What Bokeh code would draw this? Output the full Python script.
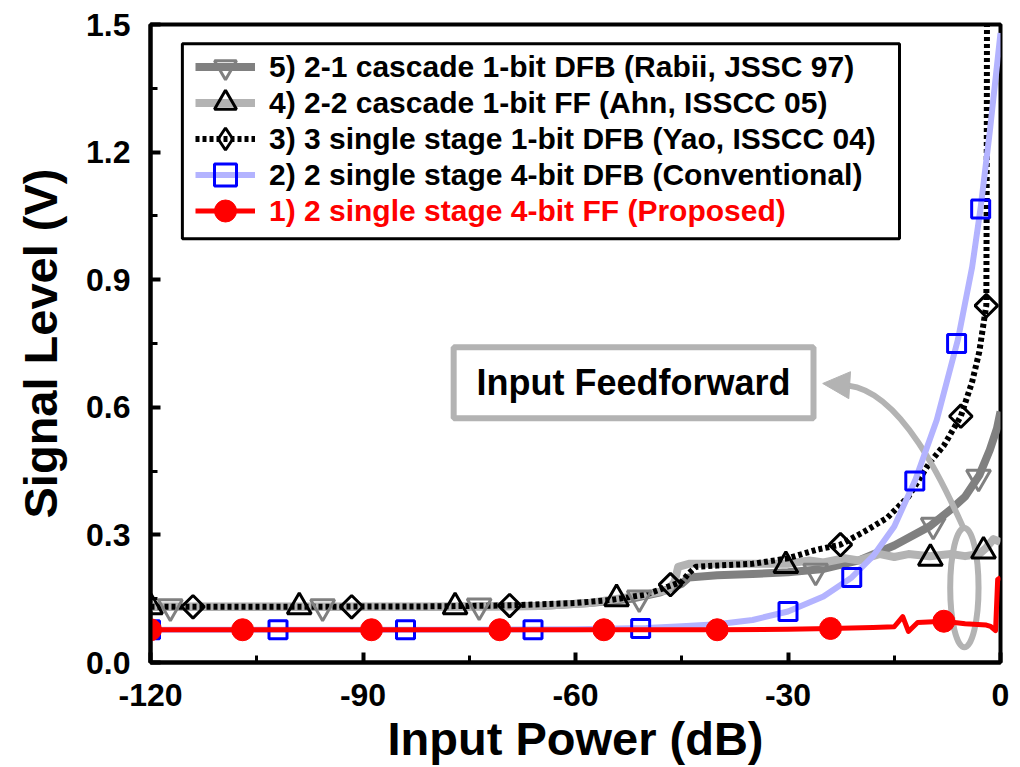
from bokeh.plotting import figure
from bokeh.models import (Range1d, FixedTicker, PrintfTickFormatter, Legend, LegendItem,
                          BoxAnnotation, Label, Arrow, NormalHead)
from bokeh.embed import file_html
from bokeh.resources import INLINE

FONT = "Liberation Sans"

# ---------------- data ----------------
# 5) 2-1 cascade 1-bit DFB (Rabii)
rabii_x = [-120, -100, -80, -65, -58, -52, -48, -45, -44, -40, -35, -30, -25, -20, -15, -10, -7, -5, -3, -1.5, -0.5, 0]
rabii_y = [0.131, 0.131, 0.131, 0.133, 0.14, 0.15, 0.165, 0.185, 0.2, 0.205, 0.208, 0.212, 0.22, 0.24, 0.275, 0.32, 0.36, 0.39, 0.44, 0.5, 0.55, 0.59]
rabii_mx = [-117.2, -95.7, -73.6, -51, -26.1, -9.5, -3.1]
rabii_my = [0.131, 0.131, 0.133, 0.152, 0.215, 0.323, 0.436]

# 4) 2-2 cascade 1-bit FF (Ahn)
ahn_x = [-120, -100, -80, -65, -58, -54, -50, -47, -46, -45.5, -44, -40, -35, -30, -27, -25, -22, -20, -17, -15, -13, -10, -7, -5, -3, -2, -1, 0]
ahn_y = [0.131, 0.131, 0.131, 0.133, 0.14, 0.15, 0.16, 0.17, 0.19, 0.225, 0.232, 0.232, 0.232, 0.232, 0.24, 0.235, 0.245, 0.24, 0.255, 0.248, 0.255, 0.25, 0.255, 0.25, 0.255, 0.27, 0.29, 0.283]
ahn_mx = [-120, -99, -77, -54.2, -30.3, -9.9, -2.4]
ahn_my = [0.131, 0.131, 0.131, 0.15, 0.228, 0.245, 0.262]

# 3) 3 single stage 1-bit DFB (Yao)
yao_x = [-120, -100, -80, -70, -60, -55, -50, -47, -45, -44, -43, -40, -35, -30, -26, -22.6, -19, -16, -13, -10, -8, -5.6, -4, -3, -2, -1.95, -1.9]
yao_y = [0.131, 0.131, 0.132, 0.134, 0.14, 0.147, 0.16, 0.178, 0.19, 0.21, 0.225, 0.228, 0.232, 0.245, 0.265, 0.277, 0.31, 0.34, 0.39, 0.47, 0.51, 0.579, 0.66, 0.73, 0.84, 1.1, 1.6]
yao_mx = [-114, -91.6, -69.3, -46.6, -22.6, -5.6, -2.0]
yao_my = [0.131, 0.131, 0.134, 0.183, 0.277, 0.579, 0.839]

# 2) 2 single stage 4-bit DFB (Conventional)
conv_x = [-120, -100, -80, -60, -50, -45, -40, -35, -30, -25, -21, -18, -15, -12, -9, -6, -4, -2.8, -1.5, 0]
conv_y = [0.077, 0.077, 0.077, 0.078, 0.081, 0.085, 0.09, 0.1, 0.12, 0.155, 0.2, 0.25, 0.32, 0.43, 0.57, 0.76, 0.93, 1.07, 1.25, 1.48]
conv_mx = [-120, -102, -84, -66, -50.8, -30, -21, -12.1, -6.2, -2.8]
conv_my = [0.077, 0.077, 0.077, 0.077, 0.08, 0.12, 0.2, 0.427, 0.75, 1.066]

# 1) 2 single stage 4-bit FF (Proposed)
prop_x = [-120, -100, -80, -60, -40, -30, -24, -18, -15, -13.8, -13, -11.7, -8, -5, -2, -1.4, -0.7, -0.4, 0]
prop_y = [0.077, 0.077, 0.077, 0.077, 0.077, 0.078, 0.08, 0.082, 0.084, 0.108, 0.073, 0.094, 0.097, 0.091, 0.088, 0.085, 0.075, 0.195, 0.2]
prop_mx = [-120, -107, -88.8, -70.7, -56, -40, -24, -8]
prop_my = [0.077, 0.077, 0.077, 0.077, 0.077, 0.077, 0.08, 0.097]

labels = [
    "5) 2-1 cascade 1-bit DFB (Rabii, JSSC 97)",
    "4) 2-2 cascade 1-bit FF (Ahn, ISSCC 05)",
    "3) 3 single stage 1-bit DFB (Yao, ISSCC 04)",
    "2) 2 single stage 4-bit DFB (Conventional)",
    "1) 2 single stage 4-bit FF (Proposed)",
]
x_ticks = [-120, -90, -60, -30, 0]
x_minor = [-105, -75, -45, -15]
y_ticks = [0.0, 0.3, 0.6, 0.9, 1.2, 1.5]
y_minor = [0.15, 0.45, 0.75, 1.05, 1.35]

GRAY_D = "#808080"
GRAY_L = "#b3b3b3"

p = figure(width=1020, height=767, output_backend="svg", toolbar_location=None,
           x_range=Range1d(-120, 0), y_range=Range1d(0, 1.5),
           min_border_left=150, min_border_right=20, min_border_top=24, min_border_bottom=104,
           x_axis_label="Input Power (dB)", y_axis_label="Signal Level (V)")
p.xgrid.visible = False
p.ygrid.visible = False
p.outline_line_color = "black"
p.outline_line_width = 4
p.outline_line_alpha = 1

for ax in (p.xaxis[0], p.yaxis[0]):
    ax.axis_line_width = 4
    ax.axis_line_color = "black"
    ax.major_tick_line_width = 4
    ax.minor_tick_line_width = 3
    ax.major_tick_in = 10
    ax.major_tick_out = 0
    ax.minor_tick_in = 7
    ax.minor_tick_out = 0
    ax.major_label_text_font = FONT
    ax.major_label_text_font_size = "32px"
    ax.major_label_text_font_style = "bold"
    ax.major_label_text_color = "black"
    ax.axis_label_text_font = FONT
    ax.axis_label_text_font_size = "47px"
    ax.axis_label_text_font_style = "bold"
    ax.axis_label_text_color = "black"

p.xaxis.ticker = FixedTicker(ticks=x_ticks, minor_ticks=x_minor)
p.yaxis.ticker = FixedTicker(ticks=y_ticks, minor_ticks=y_minor)
p.yaxis.formatter = PrintfTickFormatter(format="%.1f")
p.xaxis.formatter = PrintfTickFormatter(format="%d")
p.xaxis.major_label_standoff = 21
p.yaxis.major_label_standoff = 20
p.xaxis.axis_label_standoff = 3
p.yaxis.axis_label_standoff = 16

# series lines
r5l = p.line(rabii_x, rabii_y, line_color=GRAY_D, line_width=8, line_join="round")
r4l = p.line(ahn_x, ahn_y, line_color=GRAY_L, line_width=8, line_join="round")

# ellipse annotation (input feedforward region)
p.ellipse(x=[-5.1], y=[0.176], width=[4], height=[0.28], fill_color=None,
          line_color=GRAY_L, line_width=6)

r3l = p.line(yao_x, yao_y, line_color="black", line_width=6, line_dash="4 3")
r5m = p.scatter(rabii_mx, rabii_my, marker="inverted_triangle", size=24, fill_color=None,
                line_color=GRAY_D, line_width=3)
r4m = p.scatter(ahn_mx, ahn_my, marker="triangle", size=24, fill_color=None,
                line_color="black", line_width=3)
r3m = p.scatter(yao_mx, yao_my, marker="square", angle=0.7854, size=16, fill_color=None,
                line_color="black", line_width=3)
# hidden twin, used only for the diamond symbol in the legend key
r3m_key = p.scatter(yao_mx, yao_my, marker="diamond", size=26, fill_color=None,
                    line_color="black", line_width=3, visible=False)

p.bezier(x0=[-21.46], y0=[0.651], x1=[-5.22], y1=[0.316], cx0=[-13.41], cy0=[0.635],
         cx1=[-7.06], cy1=[0.382], line_color=GRAY_L, line_width=6)

r2l = p.line(conv_x, conv_y, line_color="#b3b3ff", line_width=6, line_join="round")
r2m = p.scatter(conv_mx, conv_my, marker="square", size=18, fill_color=None,
                line_color="#0000ff", line_width=3)
r1l = p.line(prop_x, prop_y, line_color="#ff0000", line_width=5, line_join="round")
r1m = p.scatter(prop_mx, prop_my, marker="circle", size=22, fill_color="#ff0000",
                line_color="#ff0000", line_width=1)

# arrow head pointing to the label box
p.add_layout(Arrow(end=NormalHead(size=27, fill_color=GRAY_L, line_color=GRAY_L),
                   x_start=-21.3, y_start=0.652, x_end=-25.1, y_end=0.656,
                   line_color=GRAY_L, line_width=6))

# "Input Feedforward" box
p.add_layout(BoxAnnotation(left=-77.2, right=-26.4, top=0.741, bottom=0.574,
                           fill_color="white", fill_alpha=1, line_color=GRAY_L,
                           line_width=6, line_alpha=1))
p.add_layout(Label(x=-51.8, y=0.659, text="Input Feedforward", text_align="center",
                   text_baseline="middle", text_font=FONT, text_font_size="36px",
                   text_font_style="bold", text_color="black"))

# legend frame
p.add_layout(BoxAnnotation(left=-115.5, right=-14.26, top=1.455, bottom=0.996,
                           fill_color="white", fill_alpha=1, line_color="black",
                           line_width=3, line_alpha=1))

def make_legend(label, renderers, color, vy):
    lg = Legend(items=[LegendItem(label=label, renderers=renderers)], location=(45, vy))
    lg.background_fill_alpha = 0
    lg.border_line_alpha = 0
    lg.inactive_fill_alpha = 0
    lg.padding = 0
    lg.margin = 0
    lg.spacing = 0
    lg.glyph_width = 60
    lg.glyph_height = 55
    lg.label_height = 55
    lg.label_standoff = 14
    lg.label_text_font = FONT
    lg.label_text_font_size = "30px"
    lg.label_text_font_style = "bold"
    lg.label_text_color = color
    p.add_layout(lg)

make_legend(labels[0], [r5l, r5m], "black", 568)
make_legend(labels[1], [r4l, r4m], "black", 532)
make_legend(labels[2], [r3l, r3m_key], "black", 496)
make_legend(labels[3], [r2l, r2m], "black", 460)
make_legend(labels[4], [r1l, r1m], "#ff0000", 424)

open("out.html", "w").write(file_html(p, INLINE))
